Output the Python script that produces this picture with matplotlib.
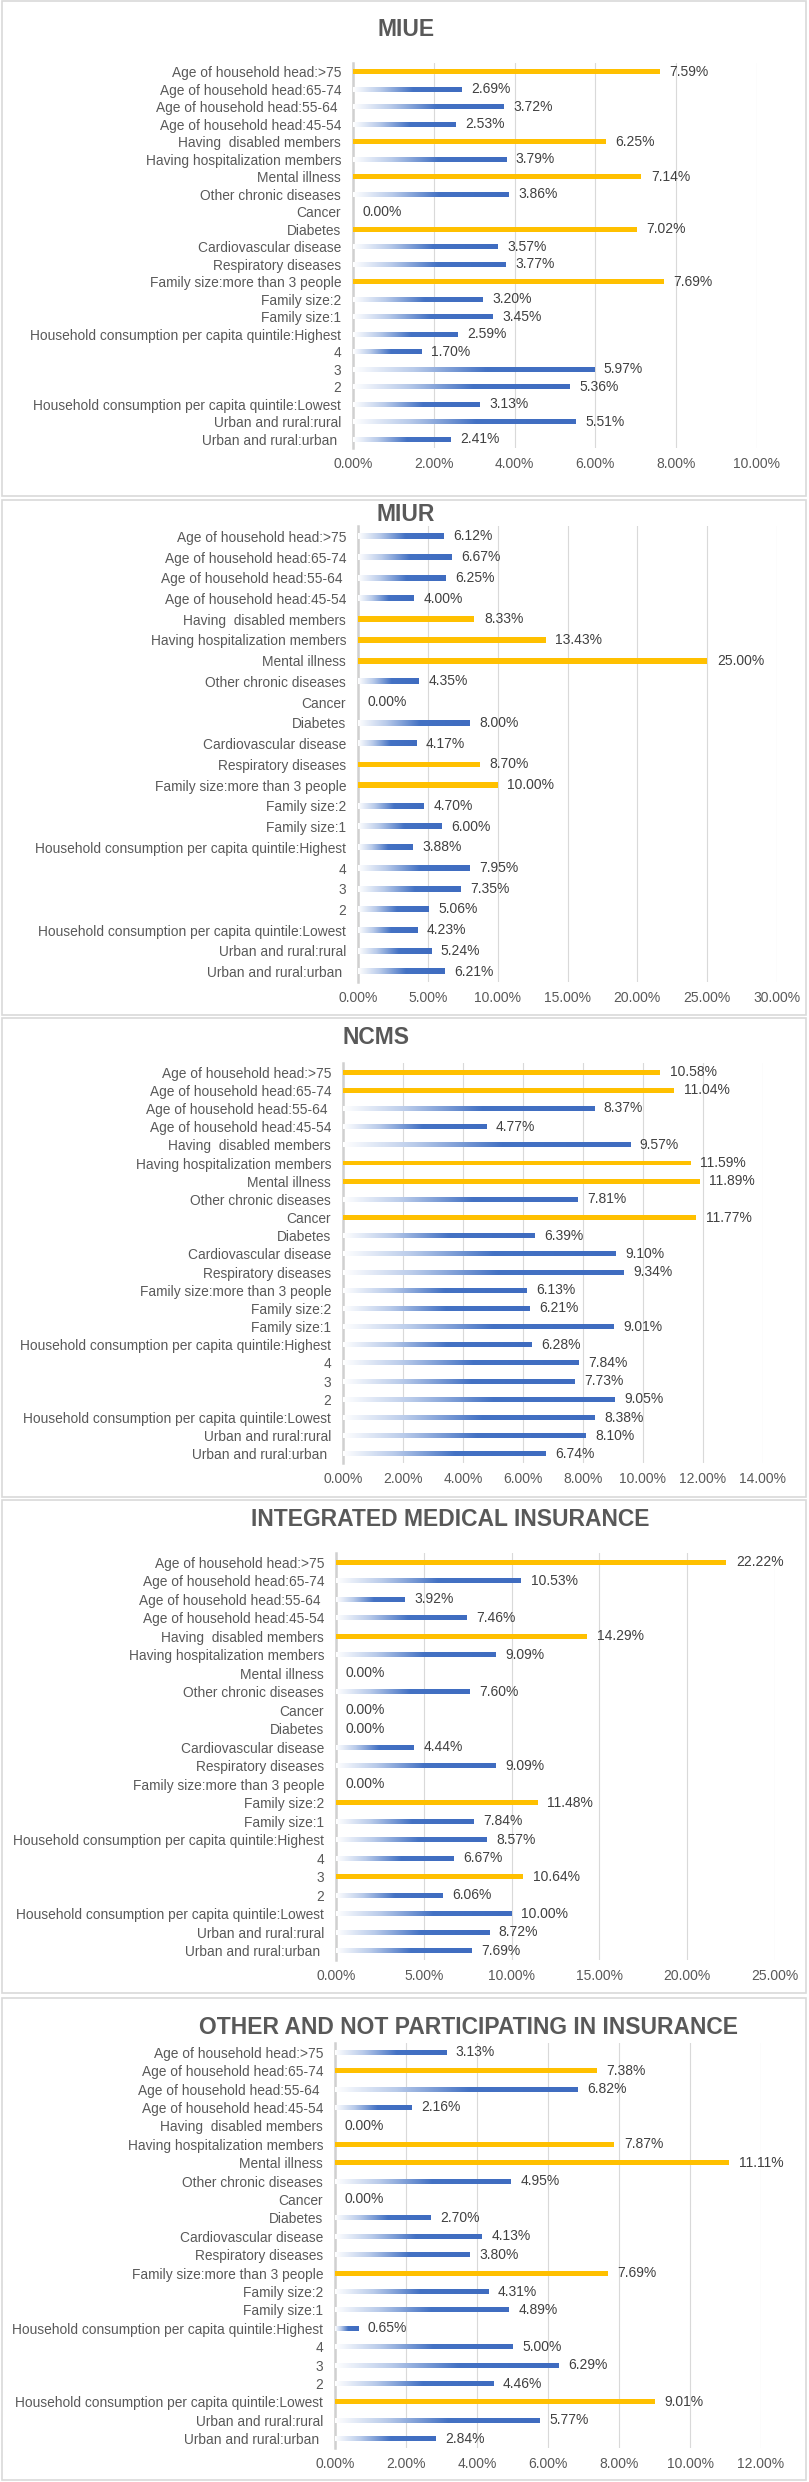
import numpy as np
import matplotlib
matplotlib.use("Agg")
import matplotlib.pyplot as plt
from matplotlib.colors import LinearSegmentedColormap
from matplotlib.patches import Rectangle
from matplotlib.ticker import FuncFormatter

plt.rcParams['font.family'] = ['Liberation Sans', 'DejaVu Sans']

categories = [
    "Age of household head:>75",
    "Age of household head:65-74",
    "Age of household head:55-64 ",
    "Age of household head:45-54",
    "Having  disabled members",
    "Having hospitalization members",
    "Mental illness",
    "Other chronic diseases",
    "Cancer",
    "Diabetes",
    "Cardiovascular disease",
    "Respiratory diseases",
    "Family size:more than 3 people",
    "Family size:2",
    "Family size:1",
    "Household consumption per capita quintile:Highest",
    "4",
    "3",
    "2",
    "Household consumption per capita quintile:Lowest",
    "Urban and rural:rural",
    "Urban and rural:urban ",
]

titles = ["MIUE", "MIUR", "NCMS", "INTEGRATED MEDICAL INSURANCE",
          "OTHER AND NOT PARTICIPATING IN INSURANCE"]

miue = [7.59, 2.69, 3.72, 2.53, 6.25, 3.79, 7.14, 3.86, 0.00, 7.02, 3.57,
        3.77, 7.69, 3.20, 3.45, 2.59, 1.70, 5.97, 5.36, 3.13, 5.51, 2.41]
miur = [6.12, 6.67, 6.25, 4.00, 8.33, 13.43, 25.00, 4.35, 0.00, 8.00, 4.17,
        8.70, 10.00, 4.70, 6.00, 3.88, 7.95, 7.35, 5.06, 4.23, 5.24, 6.21]
ncms = [10.58, 11.04, 8.37, 4.77, 9.57, 11.59, 11.89, 7.81, 11.77, 6.39, 9.10,
        9.34, 6.13, 6.21, 9.01, 6.28, 7.84, 7.73, 9.05, 8.38, 8.10, 6.74]
integrated = [22.22, 10.53, 3.92, 7.46, 14.29, 9.09, 0.00, 7.60, 0.00, 0.00, 4.44,
              9.09, 0.00, 11.48, 7.84, 8.57, 6.67, 10.64, 6.06, 10.00, 8.72, 7.69]
other = [3.13, 7.38, 6.82, 2.16, 0.00, 7.87, 11.11, 4.95, 0.00, 2.70, 4.13,
         3.80, 7.69, 4.31, 4.89, 0.65, 5.00, 6.29, 4.46, 9.01, 5.77, 2.84]

# rows drawn in yellow (index into categories)
miue_yellow = [0, 4, 6, 9, 12]
miur_yellow = [4, 5, 6, 11, 12]
ncms_yellow = [0, 1, 5, 6, 8]
integrated_yellow = [0, 4, 13, 17]
other_yellow = [1, 5, 6, 12, 19]

axis_max = [10, 30, 14, 25, 12]
axis_step = [2, 5, 2, 5, 2]

series = [miue, miur, ncms, integrated, other]
yellows = [miue_yellow, miur_yellow, ncms_yellow, integrated_yellow, other_yellow]

# layout in pixels: box top/bottom, axes x0/x1/top/bottom, title x/y
W, H = 809, 2482
boxes = [(1, 496), (500, 1015), (1018, 1497), (1500, 1993), (1998, 2480)]
axes_px = [(353, 757, 63, 448), (358, 777, 526, 982), (343, 763, 1063, 1463),
           (336, 775, 1553, 1960), (335, 761, 2043, 2448)]
title_px = [(406, 30), (406, 515), (376, 1037), (450, 1519), (468, 2027)]

YELLOW = '#FFC000'
BLUE = '#4472C4'
TXT = '#595959'
blue_cmap = LinearSegmentedColormap.from_list(
    'fade', [(0, '#FFFFFF'), (0.25, '#B9CBEA'), (0.55, BLUE), (1, '#3F6CC0')])
grad = np.linspace(0, 1, 256).reshape(1, -1)

fig = plt.figure(figsize=(W / 100, H / 100), dpi=100)
fig.patch.set_facecolor('white')

n = len(categories)
ypos = np.arange(n)[::-1]
bar_h = 0.27

for k in range(5):
    bt, bb = boxes[k]
    fig.add_artist(Rectangle((2 / W, 1 - bb / H), (W - 5) / W, (bb - bt) / H,
                             transform=fig.transFigure, fill=False,
                             ec='#D9D9D9', lw=1.2))
    x0, x1, yt, yb = axes_px[k]
    ax = fig.add_axes([x0 / W, 1 - yb / H, (x1 - x0) / W, (yb - yt) / H])
    vals = series[k]
    for i, v in enumerate(vals):
        y = ypos[i]
        if i in yellows[k]:
            ax.barh(y, v, height=bar_h, color=YELLOW, zorder=3)
        elif v > 0:
            ax.imshow(grad, extent=(0, v, y - bar_h / 2, y + bar_h / 2),
                      cmap=blue_cmap, aspect='auto', zorder=3,
                      interpolation='bilinear')
        ax.annotate(f"{v:.2f}%", (v, y), xytext=(7, 0),
                    textcoords='offset points', ha='left', va='center',
                    fontsize=10, color='#404040', zorder=4)

    ax.set_xlim(0, axis_max[k])
    ax.set_ylim(-0.5, n - 0.5)
    ax.set_xticks(np.arange(0, axis_max[k] + axis_step[k] / 2, axis_step[k]))
    ax.xaxis.set_major_formatter(FuncFormatter(lambda x, p: f"{x:.2f}%"))
    ax.set_yticks(ypos)
    ax.set_yticklabels(categories)
    ax.tick_params(axis='y', length=0, pad=8.6, labelsize=9.9, colors=TXT)
    ax.tick_params(axis='x', length=0, pad=6.5, labelsize=10, colors=TXT)
    ax.xaxis.grid(True, color='#D9D9D9', lw=0.8)
    ax.set_axisbelow(True)
    for s in ['top', 'right', 'bottom']:
        ax.spines[s].set_visible(False)
    ax.spines['left'].set_color('#D0D0D0')
    ax.spines['left'].set_linewidth(1.8)
    ax.set_facecolor('none')

    tx, ty = title_px[k]
    fig.text(tx / W, 1 - ty / H, titles[k], ha='center', va='center',
             fontsize=16.5, fontweight='bold', color=TXT)

fig.savefig('out.png', dpi=100, facecolor='white')
